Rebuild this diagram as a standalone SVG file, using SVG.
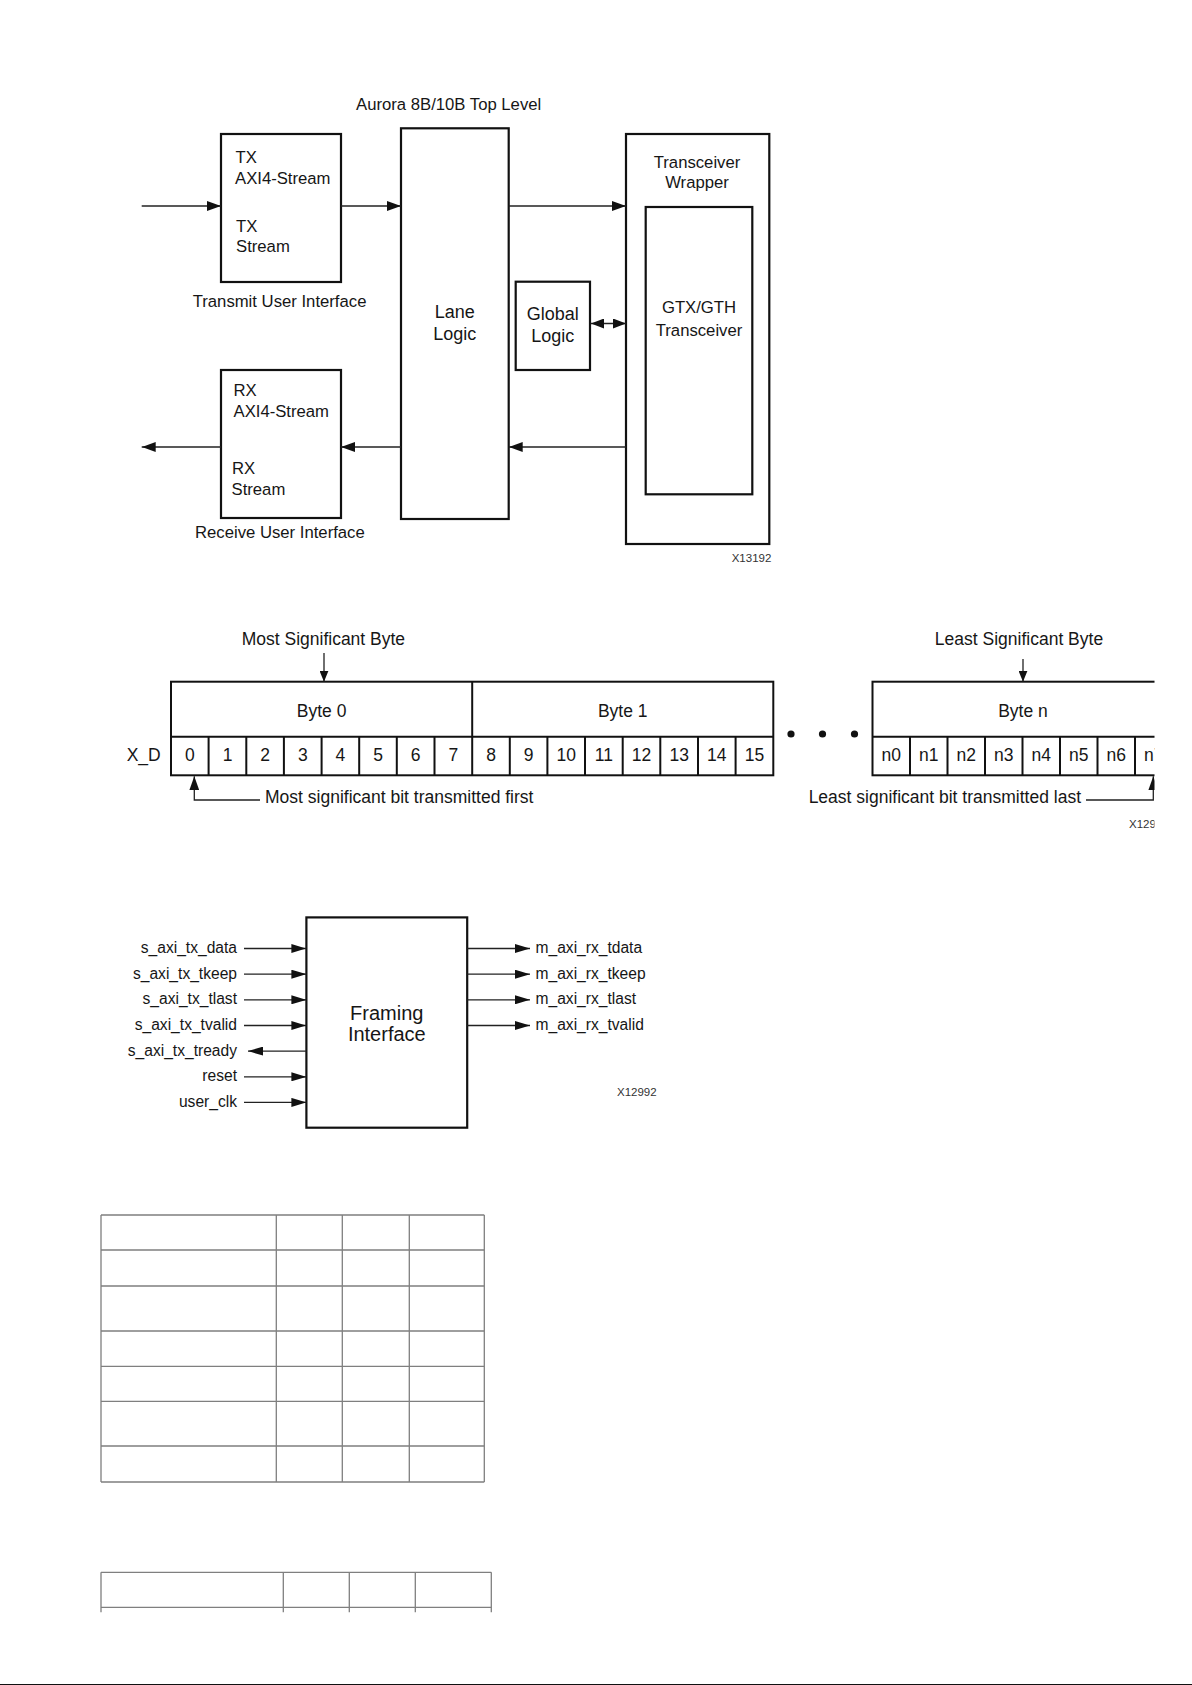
<svg xmlns="http://www.w3.org/2000/svg" width="1192" height="1685" viewBox="0 0 1192 1685">
<style>
text{font-family:"Liberation Sans",Arial,sans-serif;fill:#161616}
.box{fill:none;stroke:#111;stroke-width:2.2}
.cell{fill:none;stroke:#111;stroke-width:2}
.con{fill:none;stroke:#222;stroke-width:1.3}
.t17{font-size:16.7px}
.t18{font-size:18px}
.tb{font-size:17.5px}
.tf{font-size:15.6px}
.tid{font-size:11.5px;fill:#333}
.grid{fill:none;stroke:#7f7f7f;stroke-width:1.3}
.c{text-anchor:middle}
.e{text-anchor:end}
</style>
<defs>
<marker id="ah" markerUnits="userSpaceOnUse" markerWidth="14" markerHeight="10" refX="14" refY="5" orient="auto-start-reverse"><path d="M0,0 L14,5 L0,10 Z" fill="#111"/></marker>
<marker id="ahs" markerUnits="userSpaceOnUse" markerWidth="11" markerHeight="9" refX="11" refY="4.5" orient="auto-start-reverse"><path d="M0,0 L11,4.5 L0,9 Z" fill="#111"/></marker>
<marker id="ahd" markerUnits="userSpaceOnUse" markerWidth="13" markerHeight="10" refX="13" refY="5" orient="auto-start-reverse"><path d="M0,0 L13,5 L0,10 Z" fill="#111"/></marker>
<marker id="ahf" markerUnits="userSpaceOnUse" markerWidth="15" markerHeight="9" refX="15" refY="4.5" orient="auto-start-reverse"><path d="M0,0 L15,4.5 L0,9 Z" fill="#111"/></marker>
<clipPath id="clipR"><rect x="0" y="0" width="1154.5" height="1685"/></clipPath>
</defs>
<rect x="0" y="0" width="1192" height="1685" fill="#fff"/>

<!-- ===== Figure 1: Aurora top level ===== -->
<text id="title-top" class="t17" x="356" y="110">Aurora 8B/10B Top Level</text>

<g id="tx-ui">
<rect class="box" x="221" y="134" width="120" height="148"/>
<text class="t17" x="235.5" y="163.3">TX</text>
<text class="t17" x="235" y="184">AXI4-Stream</text>
<text class="t17" x="236" y="231.7">TX</text>
<text class="t17" x="236" y="252.3">Stream</text>
<text class="t17" x="192.7" y="307.3">Transmit User Interface</text>
</g>

<g id="rx-ui">
<rect class="box" x="221" y="370" width="120" height="148"/>
<text class="t17" x="233.5" y="395.7">RX</text>
<text class="t17" x="233.5" y="417.3">AXI4-Stream</text>
<text class="t17" x="232" y="474.3">RX</text>
<text class="t17" x="231.5" y="495">Stream</text>
<text class="t17" x="195" y="537.7">Receive User Interface</text>
</g>

<g id="lane-logic">
<rect class="box" x="401" y="128.3" width="107.7" height="390.7"/>
<text class="t18 c" x="454.8" y="318.3">Lane</text>
<text class="t18 c" x="454.8" y="340">Logic</text>
</g>

<g id="global-logic">
<rect class="box" x="515.7" y="281.7" width="74.3" height="88.3"/>
<text class="t18 c" x="552.8" y="320">Global</text>
<text class="t18 c" x="552.8" y="341.7">Logic</text>
</g>

<g id="transceiver-wrapper">
<rect class="box" x="626" y="134" width="143.3" height="410"/>
<text class="t17 c" x="697" y="168.3">Transceiver</text>
<text class="t17 c" x="697" y="188.3">Wrapper</text>
</g>

<g id="gtx-gth">
<rect class="box" x="645.7" y="207" width="106.6" height="287.3"/>
<text class="t17 c" x="699" y="313.3">GTX/GTH</text>
<text class="t17 c" x="699" y="336">Transceiver</text>
</g>

<text id="fig-id-1" class="tid" x="731.7" y="561.7">X13192</text>

<g id="connectors-top">
<line class="con" x1="141.7" y1="206" x2="221" y2="206" marker-end="url(#ah)"/>
<line class="con" x1="341" y1="206" x2="401" y2="206" marker-end="url(#ah)"/>
<line class="con" x1="508.7" y1="206" x2="626" y2="206" marker-end="url(#ah)"/>
<line class="con" x1="591" y1="323.5" x2="626" y2="323.5" marker-start="url(#ahd)" marker-end="url(#ahd)"/>
<line class="con" x1="626" y1="447" x2="508.7" y2="447" marker-end="url(#ah)"/>
<line class="con" x1="401" y1="447" x2="341" y2="447" marker-end="url(#ah)"/>
<line class="con" x1="221" y1="447" x2="141.7" y2="447" marker-end="url(#ah)"/>
</g>

<!-- ===== Figure 2: byte ordering ===== -->
<g id="byte-ordering" clip-path="url(#clipR)">
<text class="tb" x="241.7" y="645">Most Significant Byte</text>
<text class="tb c" x="1019" y="645">Least Significant Byte</text>

<g id="bytes-0-1">
<rect class="cell" x="171" y="681.7" width="602.3" height="93.6"/>
<line class="cell" x1="171" y1="736.7" x2="773.3" y2="736.7"/>
<line class="cell" x1="472.2" y1="681.7" x2="472.2" y2="775.3"/>
<path class="cell" d="M208.6,736.7V775.3M246.3,736.7V775.3M283.9,736.7V775.3M321.6,736.7V775.3M359.2,736.7V775.3M396.8,736.7V775.3M434.5,736.7V775.3M509.8,736.7V775.3M547.4,736.7V775.3M585,736.7V775.3M622.7,736.7V775.3M660.3,736.7V775.3M698,736.7V775.3M735.6,736.7V775.3"/>
<text class="tb c" x="321.6" y="716.7">Byte 0</text>
<text class="tb c" x="622.7" y="716.7">Byte 1</text>
<text class="tb c" x="189.8" y="761">0</text>
<text class="tb c" x="227.5" y="761">1</text>
<text class="tb c" x="265.1" y="761">2</text>
<text class="tb c" x="302.8" y="761">3</text>
<text class="tb c" x="340.4" y="761">4</text>
<text class="tb c" x="378" y="761">5</text>
<text class="tb c" x="415.7" y="761">6</text>
<text class="tb c" x="453.3" y="761">7</text>
<text class="tb c" x="491" y="761">8</text>
<text class="tb c" x="528.6" y="761">9</text>
<text class="tb c" x="566.3" y="761">10</text>
<text class="tb c" x="603.9" y="761">11</text>
<text class="tb c" x="641.5" y="761">12</text>
<text class="tb c" x="679.2" y="761">13</text>
<text class="tb c" x="716.8" y="761">14</text>
<text class="tb c" x="754.5" y="761">15</text>
</g>

<g id="ellipsis">
<circle cx="791" cy="734" r="3.6" fill="#111"/>
<circle cx="822.5" cy="734" r="3.6" fill="#111"/>
<circle cx="854.5" cy="734" r="3.6" fill="#111"/>
</g>

<g id="byte-n">
<rect class="cell" x="872.5" y="681.7" width="300" height="93.6"/>
<line class="cell" x1="872.5" y1="736.7" x2="1172.5" y2="736.7"/>
<path class="cell" d="M910,736.7V775.3M947.5,736.7V775.3M985,736.7V775.3M1022.5,736.7V775.3M1060,736.7V775.3M1097.5,736.7V775.3M1135,736.7V775.3"/>
<text class="tb c" x="1023" y="716.7">Byte n</text>
<text class="tb c" x="891.3" y="761">n0</text>
<text class="tb c" x="928.8" y="761">n1</text>
<text class="tb c" x="966.3" y="761">n2</text>
<text class="tb c" x="1003.8" y="761">n3</text>
<text class="tb c" x="1041.3" y="761">n4</text>
<text class="tb c" x="1078.8" y="761">n5</text>
<text class="tb c" x="1116.3" y="761">n6</text>
<text class="tb c" x="1153.8" y="761">n7</text>
</g>

<text class="tb" x="126.7" y="761">X_D</text>
<text class="tb" x="265" y="802.7">Most significant bit transmitted first</text>
<text class="tb e" x="1081" y="802.7">Least significant bit transmitted last</text>
<text class="tid" x="1129" y="828">X129</text>

<g id="connectors-bytes">
<line class="con" x1="324" y1="653" x2="324" y2="681.7" marker-end="url(#ahs)"/>
<line class="con" x1="1023" y1="659" x2="1023" y2="681.7" marker-end="url(#ahs)"/>
<polyline class="con" points="260,800 194.3,800 194.3,776.3" marker-end="url(#ah)"/>
<polyline class="con" points="1086,800 1153.3,800 1153.3,776.3" marker-end="url(#ah)"/>
</g>
</g>

<!-- ===== Figure 3: framing interface ===== -->
<g id="framing-interface">
<rect class="box" x="306.4" y="917.4" width="160.8" height="210.3"/>
<text class="c" x="386.8" y="1020" style="font-size:20px">Framing</text>
<text class="c" x="386.8" y="1041" style="font-size:20px">Interface</text>
</g>

<g id="framing-labels">
<text class="tf e" x="237" y="953">s_axi_tx_data</text>
<text class="tf e" x="237" y="978.7">s_axi_tx_tkeep</text>
<text class="tf e" x="237" y="1004.3">s_axi_tx_tlast</text>
<text class="tf e" x="237" y="1030">s_axi_tx_tvalid</text>
<text class="tf e" x="237" y="1055.6">s_axi_tx_tready</text>
<text class="tf e" x="237" y="1081.3">reset</text>
<text class="tf e" x="237" y="1106.9">user_clk</text>
<text class="tf" x="535.5" y="953">m_axi_rx_tdata</text>
<text class="tf" x="535.5" y="978.7">m_axi_rx_tkeep</text>
<text class="tf" x="535.5" y="1004.3">m_axi_rx_tlast</text>
<text class="tf" x="535.5" y="1030">m_axi_rx_tvalid</text>
<text class="tid" x="617" y="1095.7">X12992</text>
</g>

<g id="connectors-framing">
<line class="con" x1="244" y1="948.5" x2="306.4" y2="948.5" marker-end="url(#ahf)"/>
<line class="con" x1="244" y1="974.2" x2="306.4" y2="974.2" marker-end="url(#ahf)"/>
<line class="con" x1="244" y1="999.8" x2="306.4" y2="999.8" marker-end="url(#ahf)"/>
<line class="con" x1="244" y1="1025.5" x2="306.4" y2="1025.5" marker-end="url(#ahf)"/>
<line class="con" x1="306.4" y1="1051.1" x2="248" y2="1051.1" marker-end="url(#ahf)"/>
<line class="con" x1="244" y1="1076.8" x2="306.4" y2="1076.8" marker-end="url(#ahf)"/>
<line class="con" x1="244" y1="1102.4" x2="306.4" y2="1102.4" marker-end="url(#ahf)"/>
<line class="con" x1="467.2" y1="948.5" x2="530" y2="948.5" marker-end="url(#ahf)"/>
<line class="con" x1="467.2" y1="974.2" x2="530" y2="974.2" marker-end="url(#ahf)"/>
<line class="con" x1="467.2" y1="999.8" x2="530" y2="999.8" marker-end="url(#ahf)"/>
<line class="con" x1="467.2" y1="1025.5" x2="530" y2="1025.5" marker-end="url(#ahf)"/>
</g>

<!-- ===== Empty tables ===== -->
<g id="table-1">
<path class="grid" d="M101,1215H484.3M101,1250H484.3M101,1286H484.3M101,1331H484.3M101,1366.3H484.3M101,1401.3H484.3M101,1446H484.3M101,1482H484.3"/>
<path class="grid" d="M101,1215V1482M276.3,1215V1482M342.3,1215V1482M409.3,1215V1482M484.3,1215V1482"/>
</g>

<g id="table-2">
<path class="grid" d="M101,1572.3H491.3M101,1607.3H491.3"/>
<path class="grid" d="M101,1572.3V1612.3M283.3,1572.3V1612.3M349.3,1572.3V1612.3M415.3,1572.3V1612.3M491.3,1572.3V1612.3"/>
</g>

<line id="page-edge" x1="0" y1="1684.5" x2="1192" y2="1684.5" stroke="#111" stroke-width="1.2"/>
</svg>
